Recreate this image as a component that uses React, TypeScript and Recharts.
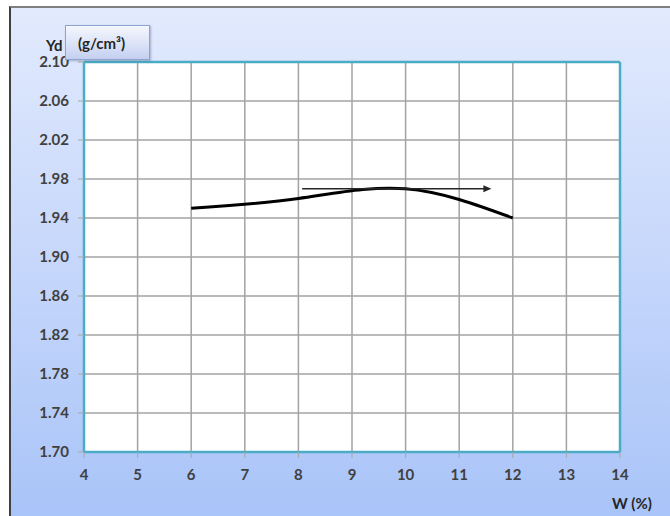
import React from 'react';
import { LineChart, Line, XAxis, YAxis, CartesianGrid, ReferenceLine } from 'recharts';

const moisture = [6, 8, 10, 12];
const density = [1.95, 1.96, 1.97, 1.94];
const xTicks = [4, 5, 6, 7, 8, 9, 10, 11, 12, 13, 14];
const yTicks = [1.7, 1.74, 1.78, 1.82, 1.86, 1.9, 1.94, 1.98, 2.02, 2.06, 2.1];
const arrowStart = { x: 8.07, y: 1.97 };
const arrowEnd = { x: 11.6, y: 1.97 };

const data = moisture.map((w, i) => ({ w, yd: density[i] }));

const FONT = 'Lato, "Open Sans", sans-serif';

const ArrowShape = (props: any) => {
  const { x1, y1, x2, y2 } = props;
  return (
    <g>
      <line x1={x1} y1={y1} x2={x2 - 6} y2={y2} stroke="#262626" strokeWidth={1.5} />
      <polygon points={`${x2},${y2} ${x2 - 8},${y2 - 3.5} ${x2 - 8},${y2 + 3.5}`} fill="#262626" />
    </g>
  );
};

export default function App() {
  return (
    <div
      style={{
        position: 'absolute',
        left: 9,
        top: 6,
        width: 661,
        height: 510,
        background: 'linear-gradient(to bottom, #e2eafd 0%, #c6d7fb 50%, #a9c4f8 100%)',
        borderLeft: '2px solid #404040',
        borderTop: '2px solid #7f7f7f',
        boxSizing: 'border-box',
        fontFamily: FONT,
      }}
    >
      <LineChart
        width={659}
        height={508}
        data={data}
        margin={{ top: 56, right: 48, left: 0, bottom: 32 }}
        style={{ position: 'absolute', left: -2, top: -2 }}
      >
        <CartesianGrid stroke="#a3a3a3" strokeWidth={1.5} fill="#ffffff" />
        <XAxis
          dataKey="w"
          type="number"
          domain={[4, 14]}
          ticks={xTicks}
          interval={0}
          height={30}
          axisLine={{ stroke: '#4bacc6', strokeWidth: 2.5 }}
          tickLine={{ stroke: '#a6a6a6' }}
          tickSize={6}
          tickMargin={11}
          tick={{ fill: '#404040', fontSize: 15, fontWeight: 700, fontFamily: FONT }}
        />
        <YAxis
          type="number"
          domain={[1.7, 2.1]}
          ticks={yTicks}
          interval={0}
          width={75}
          tickFormatter={(v: number) => v.toFixed(2)}
          axisLine={{ stroke: '#4bacc6', strokeWidth: 2.5 }}
          tickLine={{ stroke: '#a6a6a6' }}
          tickSize={6}
          tickMargin={9}
          tick={{ fill: '#404040', fontSize: 15, fontWeight: 700, fontFamily: FONT }}
        />
        <ReferenceLine y={2.1} stroke="#4bacc6" strokeWidth={2.5} />
        <ReferenceLine x={14} stroke="#4bacc6" strokeWidth={2.5} />
        <Line
          dataKey="yd"
          type="natural"
          stroke="#000000"
          strokeWidth={3}
          dot={false}
          isAnimationActive={false}
        />
        <ReferenceLine segment={[arrowStart, arrowEnd]} shape={ArrowShape} />
      </LineChart>
      <div
        style={{
          position: 'absolute',
          left: 35,
          top: 28,
          fontSize: 15,
          fontWeight: 700,
          color: '#262626',
        }}
      >
        Yd
      </div>
      <div
        style={{
          position: 'absolute',
          left: 54,
          top: 17,
          width: 85,
          height: 35,
          boxSizing: 'border-box',
          border: '1px solid #8ea4d0',
          background: 'linear-gradient(to bottom, #f4f6fd 0%, #d9e1f7 60%, #c3cff0 100%)',
          boxShadow: '1px 1px 2px rgba(80,90,130,0.4)',
          fontSize: 15,
          fontWeight: 700,
          color: '#262626',
          paddingLeft: 12,
          paddingTop: 8,
        }}
      >
        (g/cm³)
      </div>
      <div
        style={{
          position: 'absolute',
          left: 601,
          top: 486,
          fontSize: 15,
          fontWeight: 700,
          color: '#262626',
        }}
      >
        W (%)
      </div>
    </div>
  );
}
